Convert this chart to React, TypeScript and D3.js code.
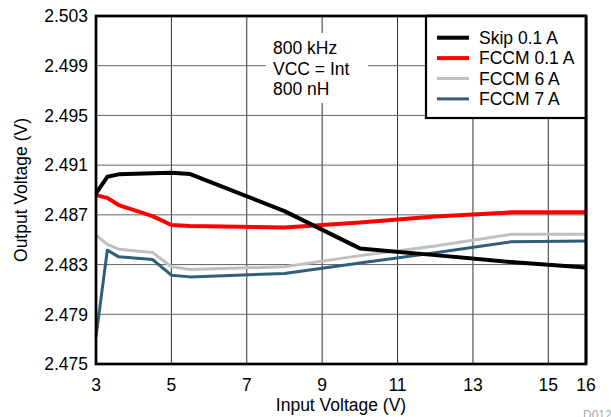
import React from "react";
import * as d3 from "d3";

const vin = [3, 3.3, 3.6, 4.5, 5, 5.5, 8, 10, 12, 14, 16];
const skip01 = [2.48873, 2.49006, 2.49026, 2.49034, 2.49039, 2.49028, 2.4873, 2.4843, 2.48376, 2.48320, 2.48277];
const fccm01 = [2.48859, 2.48837, 2.48779, 2.4869, 2.48618, 2.4861, 2.48599, 2.48638, 2.48686, 2.4872, 2.4872];
const fccm6 = [2.48537, 2.48462, 2.48424, 2.48398, 2.48282, 2.48261, 2.48282, 2.48372, 2.4845, 2.48543, 2.48543];
const fccm7 = [2.47718, 2.48416, 2.48362, 2.48341, 2.48215, 2.48201, 2.48229, 2.48312, 2.48395, 2.48483, 2.48489];

const seriesNames = ["Skip 0.1 A", "FCCM 0.1 A", "FCCM 6 A", "FCCM 7 A"];
const seriesValues = [skip01, fccm01, fccm6, fccm7];
const seriesColors = ["#000000", "#ff0000", "#c0c0c0", "#2d5f77"];
const seriesWidths = [4, 4, 3, 3];
const drawOrder = [2, 3, 1, 0];

const xTicks = [3, 5, 7, 9, 11, 13, 15, 16];
const yTicks = [2.475, 2.479, 2.483, 2.487, 2.491, 2.495, 2.499, 2.503];
const annotation = ["800 kHz", "VCC = Int", "800 nH"];

const FONT = "'Liberation Sans', Arial, Helvetica, sans-serif";

export default function App() {
  const L = 96, R = 586, T = 16, B = 364;
  const x = d3.scaleLinear().domain([3, 16]).range([L, R]);
  const y = d3.scaleLinear().domain([2.475, 2.503]).range([B, T]);
  const line = d3
    .line<number>()
    .x((_, i) => x(vin[i]))
    .y((d) => y(d));

  return (
    <svg
      width={611}
      height={417}
      style={{ position: "absolute", left: 0, top: 0, background: "#fff" }}
      fontFamily={FONT}
    >
      <rect x={0} y={0} width={611} height={417} fill="#fff" />
      {xTicks.map((t) => (
        <line key={"gx" + t} x1={x(t)} x2={x(t)} y1={T} y2={B} stroke="#333" strokeWidth={1} />
      ))}
      {yTicks.map((t) => (
        <line key={"gy" + t} x1={L} x2={R} y1={y(t)} y2={y(t)} stroke="#666" strokeWidth={1} />
      ))}
      <rect x={266} y={33} width={102} height={70} fill="#fff" />
      {annotation.map((s, i) => (
        <text key={s} x={273} y={54 + i * 20.5} fontSize={17.5} fill="#000">
          {s}
        </text>
      ))}
      {drawOrder.map((k) => (
        <path
          key={seriesNames[k]}
          d={line(seriesValues[k]) || ""}
          fill="none"
          stroke={seriesColors[k]}
          strokeWidth={seriesWidths[k]}
          strokeLinejoin="round"
        />
      ))}
      <rect x={L} y={T} width={R - L} height={B - T} fill="none" stroke="#000" strokeWidth={2.7} />
      {xTicks.map((t) => (
        <text key={"tx" + t} x={x(t)} y={390.5} fontSize={17.5} textAnchor="middle" fill="#000">
          {t}
        </text>
      ))}
      {yTicks.map((t) => (
        <text key={"ty" + t} x={88} y={y(t) + 6.3} fontSize={17.5} textAnchor="end" fill="#000">
          {d3.format(".3f")(t)}
        </text>
      ))}
      <text x={(L + R) / 2} y={411} fontSize={17.5} textAnchor="middle" fill="#000">
        Input Voltage (V)
      </text>
      <text
        transform={`translate(26.5, ${(T + B) / 2}) rotate(-90)`}
        fontSize={17.5}
        textAnchor="middle"
        fill="#000"
      >
        Output Voltage (V)
      </text>
      <rect x={426} y={T} width={R - 426} height={102} fill="#fff" stroke="#000" strokeWidth={2.2} />
      {seriesNames.map((n, i) => (
        <g key={n}>
          <line
            x1={437}
            x2={469}
            y1={37.7 + i * 20.4}
            y2={37.7 + i * 20.4}
            stroke={seriesColors[i]}
            strokeWidth={seriesWidths[i]}
          />
          <text x={479} y={37.7 + i * 20.4 + 6.2} fontSize={17.5} fill="#000">
            {n}
          </text>
        </g>
      ))}
      <line x1={R} x2={R} y1={T} y2={B} stroke="#000" strokeWidth={2.7} />
      <line x1={426} x2={R} y1={T} y2={T} stroke="#000" strokeWidth={2.7} />
      <text x={583} y={419} fontSize={12} fill="#a8a8a8">
        D012
      </text>
    </svg>
  );
}
